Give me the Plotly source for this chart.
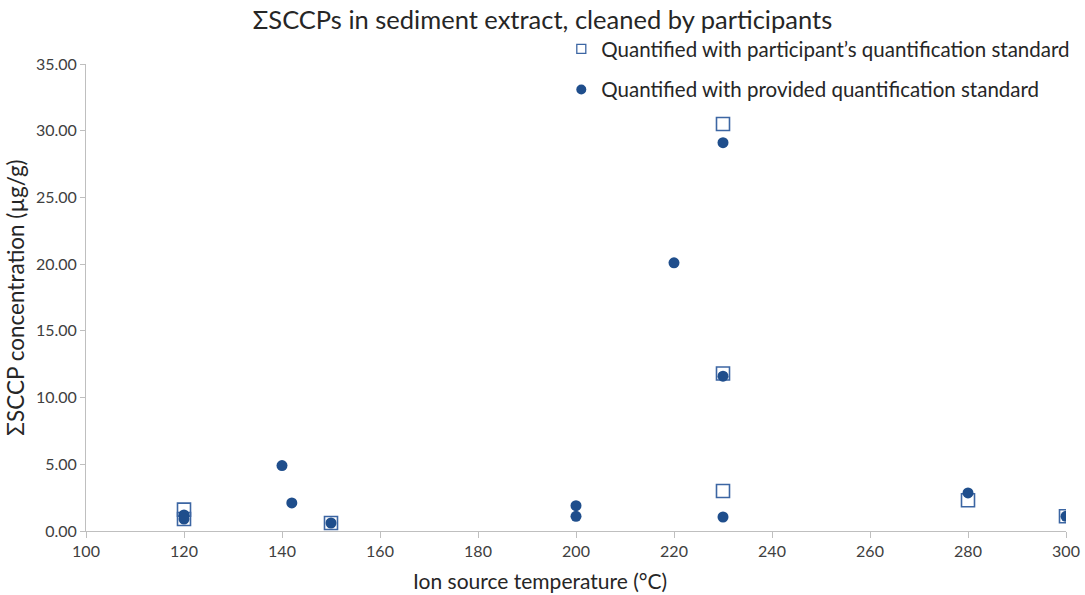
import plotly.graph_objects as go

# Data
part_x = [120, 120, 150, 230, 230, 230, 280, 300]
part_y = [1.6, 0.9, 0.6, 30.5, 11.8, 3.0, 2.3, 1.1]

prov_x = [120, 120, 140, 142, 150, 200, 200, 220, 230, 230, 230, 280, 300]
prov_y = [1.2, 0.9, 4.9, 2.1, 0.6, 1.9, 1.1, 20.1, 29.1, 11.6, 1.05, 2.85, 1.1]

x_ticks = [100, 120, 140, 160, 180, 200, 220, 240, 260, 280, 300]
y_ticks = [0, 5, 10, 15, 20, 25, 30, 35]

name_part = "Quantified with participant\u2019s quantification standard"
name_prov = "Quantified with provided quantification standard"

dark = "#1f4e8c"
sq_col = "#3c66a3"
fig = go.Figure()
fig.add_trace(go.Scatter(
    x=part_x, y=part_y, mode="markers", name=name_part, showlegend=False,
    marker=dict(symbol="square-open", size=13, color=sq_col, line=dict(width=1.6)),
))
fig.add_trace(go.Scatter(
    x=prov_x, y=prov_y, mode="markers", name=name_prov, showlegend=False,
    marker=dict(symbol="circle", size=11, color=dark),
))
# legend entries with smaller symbols, as in the reference
fig.add_trace(go.Scatter(
    x=[None], y=[None], mode="markers", name=name_part, legendgroup="a",
    marker=dict(symbol="square-open", size=9, color=sq_col, line=dict(width=1.3)),
))
fig.add_trace(go.Scatter(
    x=[None], y=[None], mode="markers", name=name_prov, legendgroup="b",
    marker=dict(symbol="circle", size=10, color=dark),
))

font = "Lato, Open Sans, sans-serif"
fig.update_layout(
    width=1085, height=595,
    margin=dict(l=86, r=19, t=64, b=64, autoexpand=False),
    paper_bgcolor="white", plot_bgcolor="white",
    font=dict(family=font, color="#262626"),
    title=dict(text="\u03a3SCCPs in sediment extract, cleaned by participants",
               x=0.5, xanchor="center", y=0.966, yanchor="middle",
               font=dict(size=25.5, color="#262626", family=font)),
    legend=dict(x=0.485, y=1.075, xanchor="left", yanchor="top",
                font=dict(size=20.5, family=font, color="#262626"),
                tracegroupgap=11, bgcolor="rgba(0,0,0,0)", itemwidth=30),
    showlegend=True,
    annotations=[dict(text="Ion source temperature (\u00b0C)", xref="paper", yref="paper",
                      x=(540 - 86) / 980, y=-(580 - 531) / 467, xanchor="center", yanchor="middle",
                      showarrow=False, font=dict(size=21, family=font, color="#262626"))],
)
fig.update_xaxes(
    range=[100, 300], tickvals=x_ticks, ticktext=[str(v) for v in x_ticks],
    showgrid=False, zeroline=False, showline=True, linecolor="#bfbfbf", linewidth=1,
    ticks="outside", ticklen=6, tickcolor="#bfbfbf",
    tickfont=dict(size=16, family=font, color="#404040"),
)
fig.update_yaxes(
    range=[0, 35], tickvals=y_ticks, tickformat=".2f",
    showgrid=False, zeroline=False, showline=True, linecolor="#bfbfbf", linewidth=1,
    ticks="outside", ticklen=5, tickcolor="#bfbfbf",
    tickfont=dict(size=16, family=font, color="#404040"),
    title=dict(text="\u03a3SCCP concentration (\u00b5g/g)", font=dict(size=22.5, family=font, color="#262626"), standoff=5),
)
fig.write_html("out.html")
